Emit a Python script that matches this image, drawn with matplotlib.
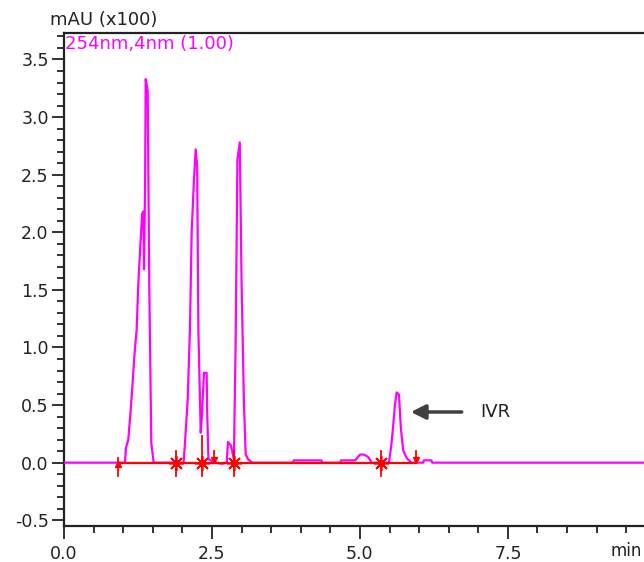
import matplotlib.pyplot as plt
from matplotlib.ticker import MultipleLocator

plt.rcParams['font.family'] = ['DejaVu Sans']

# chromatogram trace (min, mAU x100)
time = [0.0, 1.03, 1.047, 1.086, 1.127, 1.16, 1.194, 1.228, 1.255, 1.296, 1.32,
        1.34, 1.352, 1.37, 1.38, 1.414, 1.44, 1.475, 1.515, 2.02, 2.044, 2.09,
        2.128, 2.157, 2.196, 2.225, 2.25, 2.27, 2.31, 2.33, 2.365, 2.41, 2.42,
        2.44, 2.55, 2.67, 2.75, 2.77, 2.82, 2.87, 2.90, 2.93, 2.97, 3.0, 3.04,
        3.07, 3.11, 3.18, 3.87, 3.88, 4.35, 4.36, 4.67, 4.68, 4.92, 5.0, 5.07,
        5.14, 5.2, 5.49, 5.53, 5.56, 5.59, 5.62, 5.66, 5.69, 5.73, 5.79, 5.87,
        6.07, 6.08, 6.21, 6.22, 9.8]
absorb = [0.0, 0.0, 0.13, 0.20, 0.46, 0.70, 0.96, 1.16, 1.55, 1.94, 2.16,
          2.18, 1.68, 2.40, 3.33, 3.23, 1.57, 0.17, 0.0, 0.0, 0.17, 0.55,
          1.16, 2.0, 2.46, 2.72, 2.57, 1.16, 0.26, 0.40, 0.78, 0.78, 0.43,
          0.03, 0.0, -0.01, 0.0, 0.18, 0.15, 0.03, 1.04, 2.63, 2.78, 1.57, 0.52,
          0.07, 0.03, 0.0, 0.0, 0.02, 0.02, 0.0, 0.0, 0.02, 0.02, 0.07, 0.07,
          0.05, 0.0, 0.0, 0.15, 0.31, 0.49, 0.61, 0.59, 0.31, 0.11, 0.04, 0.0,
          0.0, 0.02, 0.02, 0.0, 0.0]

# integration marks
mark_t = [0.91, 1.89, 2.33, 2.53, 2.87, 5.36, 5.95]
mark_kind = ['up', 'star', 'star', 'down', 'star', 'star', 'down']
mark_top = [0.04, 0.10, 0.23, 0.10, 0.10, 0.10, 0.10]
baseline_start = 0.91
baseline_end = 5.95

magenta = '#ff00ff'
red = '#ff0000'
txt = '#222222'

fig = plt.figure(figsize=(6.44, 5.62), dpi=100)
ax = fig.add_axes([0.0994, 0.064, 0.9006, 0.8773])

ax.plot(time, absorb, color=magenta, lw=1.6, zorder=3)
ax.plot([baseline_start, baseline_end], [0, 0], color=red, lw=1.6, zorder=4)

for t, kind, top in zip(mark_t, mark_kind, mark_top):
    if kind == 'star':
        ax.plot([t, t], [-0.12, top], color=red, lw=1.3, zorder=5)
        ax.plot(t, 0, marker=(8, 2, 0), color=red, ms=11, mew=1.2, zorder=5)
        ax.plot(t, 0, 'o', color=red, ms=4, zorder=5)
    elif kind == 'up':
        ax.plot([t, t], [-0.12, top], color=red, lw=1.3, zorder=5)
        ax.plot(t, -0.01, marker='^', color=red, ms=5, zorder=5)
    else:
        ax.plot([t, t], [0, top], color=red, lw=1.3, zorder=5)
        ax.plot(t, 0.02, marker='v', color=red, ms=5, zorder=5)

ax.annotate('', xy=(5.86, 0.44), xytext=(6.72, 0.44),
            arrowprops=dict(arrowstyle='-|>', color='#404040', lw=2.5,
                            mutation_scale=22, shrinkA=0, shrinkB=0))
ax.text(7.03, 0.44, 'IVR', fontsize=13, color=txt, va='center', ha='left')

ax.set_xlim(0, 9.8)
ax.set_ylim(-0.55, 3.73)
ax.xaxis.set_minor_locator(MultipleLocator(0.5))
ax.yaxis.set_minor_locator(MultipleLocator(0.1))
ax.set_xticks([0, 2.5, 5.0, 7.5])
ax.set_xticklabels(['0.0', '2.5', '5.0', '7.5'])
ax.set_yticks([-0.5, 0, 0.5, 1.0, 1.5, 2.0, 2.5, 3.0, 3.5])
ax.set_yticklabels(['-0.5', '0.0', '0.5', '1.0', '1.5', '2.0', '2.5', '3.0', '3.5'])
ax.tick_params(which='major', direction='out', length=9, width=1.3,
               labelsize=12.5, colors=txt, pad=2)
ax.tick_params(axis='x', which='major', pad=5)
ax.tick_params(which='minor', direction='out', length=5, width=1.3, colors=txt)

ax.spines['right'].set_visible(False)
for s in ['left', 'top', 'bottom']:
    ax.spines[s].set_linewidth(1.6)
    ax.spines[s].set_color(txt)

fig.text(50 / 644, 1 - 20 / 562, 'mAU (x100)', fontsize=13, color=txt,
         ha='left', va='center')
ax.text(0.002, 0.995, '254nm,4nm (1.00)', transform=ax.transAxes, fontsize=13,
        color=magenta, ha='left', va='top')
fig.text(642 / 644, 1 - 551 / 562, 'min', fontsize=12, color=txt,
         ha='right', va='center')

fig.savefig('out.png', dpi=100)
